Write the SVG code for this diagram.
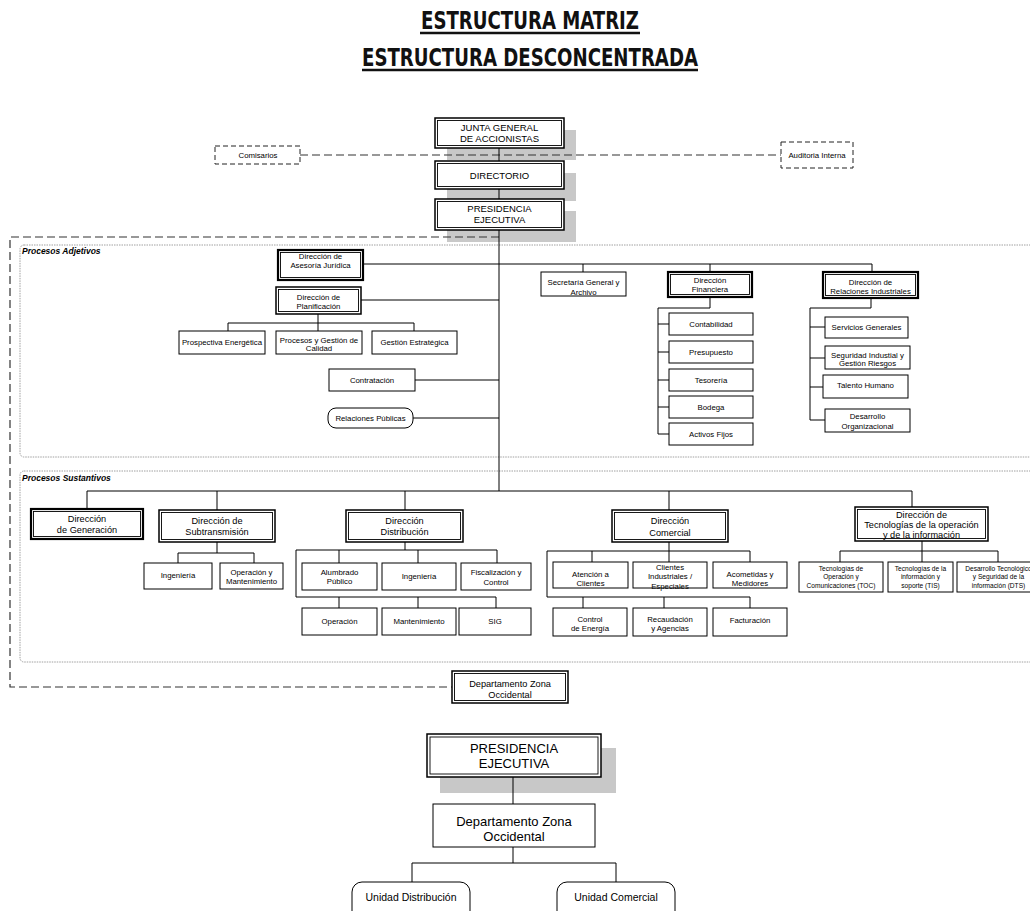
<svg xmlns="http://www.w3.org/2000/svg" width="1030" height="911" viewBox="0 0 1030 911">
<defs><style>
.t{font-family:"Liberation Sans",Arial,Helvetica,sans-serif;fill:#000;text-anchor:middle}
.f65{font-size:6.6px}.f75{font-size:7.8px}.f8{font-size:8px}.f9{font-size:9.2px}.f95{font-size:9.5px}.f105{font-size:10.5px}.f13{font-size:13px}
.ttl{font-family:"Liberation Sans Narrow","DejaVu Sans Condensed",sans-serif;font-weight:700;font-size:25px;fill:#111;text-anchor:middle}
.lbl{font-family:"Liberation Sans",Arial,sans-serif;font-weight:700;font-style:italic;font-size:8.5px;fill:#000}
.b{fill:#fff;stroke:#000;stroke-width:1}
.bo{fill:#fff;stroke:#000;stroke-width:1.5}
.bt{fill:#fff;stroke:#000;stroke-width:2.2}
.bi{fill:none;stroke:#000;stroke-width:0.9}
.db{fill:#fff;stroke:#222;stroke-width:1;stroke-dasharray:5 3}
.sh{fill:#c8c8c8}
.ln{fill:none;stroke:#000;stroke-width:1}
.dl{fill:none;stroke:#333;stroke-width:1.2;stroke-dasharray:8 4}
.rg{fill:none;stroke:#a0a0a0;stroke-width:1;stroke-dasharray:1.5 1}
.ul{stroke:#111;stroke-width:2.5}
</style></defs>
<rect width="1030" height="911" fill="#fff"/>

<g id="title">
<text class="ttl" x="530" y="29" textLength="218" lengthAdjust="spacingAndGlyphs">ESTRUCTURA MATRIZ</text>
<line class="ul" x1="420" y1="33" x2="640" y2="33"/>
<text class="ttl" x="530" y="66" textLength="336" lengthAdjust="spacingAndGlyphs">ESTRUCTURA DESCONCENTRADA</text>
<line class="ul" x1="362" y1="70" x2="698" y2="70"/>
</g>

<g id="regions">
<rect class="rg" x="20" y="245" width="1030" height="212" rx="4"/>
<text class="lbl" x="22" y="254">Procesos Adjetivos</text>
<rect class="rg" x="20" y="471" width="1030" height="191" rx="4"/>
<text class="lbl" x="22" y="481">Procesos Sustantivos</text>
</g>

<g id="shadows">
<rect class="sh" x="447" y="130" width="129" height="30"/>
<rect class="sh" x="447" y="173" width="129" height="28"/>
<rect class="sh" x="447" y="211" width="129" height="31"/>
<rect class="sh" x="440" y="748" width="176" height="45"/>
</g>

<g id="connectors">
<path class="dl" d="M300,155 H781"/>
<path class="dl" d="M499,237 H10 V687 H452"/>
<path class="ln" d="M499,148 V161 M499,189 V199 M499,230 V491"/>
<path class="ln" d="M363,264 H872 M583,264 V272 M710,264 V272 M872,264 V272"/>
<path class="ln" d="M361,300 H499 M415,380 H499 M413,418 H499"/>
<path class="ln" d="M318,314 V323 M228,331 V323 H414 V331 M318,323 V331"/>
<path class="ln" d="M710,297 V308 H658 V434 M658,324 H669 M658,352 H669 M658,380 H669 M658,407 H669 M658,434 H669"/>
<path class="ln" d="M871,298 V308 H810 V420 M810,327 H825 M810,358 H825 M810,387 H823 M810,420 H825"/>
<path class="ln" d="M87,509 V491 H912 V507 M217,491 V510 M405,491 V510 M669,491 V510"/>
<path class="ln" d="M217,542 V553 M178,563 V553 H254 V563"/>
<path class="ln" d="M405,542 V550 M296,550 H497 V563 M339,550 V563 M418,550 V563 M296,550 V597 H496 V608 M339,597 V608 M418,597 V608"/>
<path class="ln" d="M669,542 V551 M547,551 H750 V562 M592,551 V562 M669,551 V562 M547,551 V597 H750 V608 M583,597 V608 M664,597 V608"/>
<path class="ln" d="M922,541 V551 M840,551 H998 V562 M840,551 V562 M922,551 V562"/>
<path class="ln" d="M513,777 V804 M513,847 V863 M412,882 V863 H616 V882"/>
</g>

<g id="junta"><rect class="bo" x="435" y="118" width="129" height="30"/><rect class="bi" x="437.5" y="120.5" width="124" height="25"/>
<text class="t f95" x="499.5" y="130.5">JUNTA GENERAL</text><text class="t f95" x="499.5" y="141.5">DE ACCIONISTAS</text></g>
<g id="comisarios"><rect class="db" x="215" y="146" width="85" height="18"/><text class="t f75" x="258" y="158">Comisarios</text></g>
<g id="auditoria"><rect class="db" x="781" y="142" width="72" height="26"/><text class="t f75" x="817" y="158">Auditoria Interna</text></g>
<g id="directorio"><rect class="bo" x="435" y="161" width="129" height="28"/><rect class="bi" x="437.5" y="163.5" width="124" height="23"/>
<text class="t f95" x="499.5" y="178.5">DIRECTORIO</text></g>
<g id="presidencia"><rect class="bo" x="435" y="199" width="129" height="31"/><rect class="bi" x="437.5" y="201.5" width="124" height="26"/>
<text class="t f95" x="499.5" y="211.5">PRESIDENCIA</text><text class="t f95" x="499.5" y="222.5">EJECUTIVA</text></g>

<g id="asesoria"><rect class="bt" x="278" y="250" width="85" height="30"/><rect class="bi" x="280.5" y="252.5" width="80" height="25"/>
<text class="t f75" x="320.5" y="259">Dirección de</text><text class="t f75" x="320.5" y="268">Asesoría Jurídica</text></g>
<g id="planificacion"><rect class="bo" x="276" y="287" width="85" height="27"/><rect class="bi" x="278.5" y="289.5" width="80" height="22"/>
<text class="t f75" x="318.5" y="299.5">Dirección de</text><text class="t f75" x="318.5" y="309">Planificación</text></g>
<g id="prospectiva"><rect class="b" x="179" y="331" width="86" height="23"/><text class="t f75" x="222" y="345">Prospectiva Energética</text></g>
<g id="procesos"><rect class="b" x="276" y="331" width="86" height="23"/><text class="t f75" x="319" y="342.5">Procesos y Gestión de</text><text class="t f75" x="319" y="351">Calidad</text></g>
<g id="gestion"><rect class="b" x="372" y="331" width="85" height="23"/><text class="t f75" x="414.5" y="345">Gestión Estratégica</text></g>
<g id="contratacion"><rect class="b" x="329" y="369" width="86" height="22"/><text class="t f75" x="372" y="382.5">Contratación</text></g>
<g id="relpublicas"><rect class="b" x="328" y="408" width="85" height="20" rx="8"/><text class="t f75" x="370.5" y="420.5">Relaciones Públicas</text></g>

<g id="secretaria"><rect class="b" x="541" y="272" width="85" height="24"/><text class="t f75" x="583.5" y="285">Secretaría General y</text><text class="t f75" x="583.5" y="294.5">Archivo</text></g>
<g id="financiera"><rect class="bt" x="668" y="272" width="84" height="25"/><rect class="bi" x="670.5" y="274.5" width="79" height="20"/>
<text class="t f75" x="710" y="282.5">Dirección</text><text class="t f75" x="710" y="291.5">Financiera</text></g>
<g id="contabilidad"><rect class="b" x="669" y="313" width="84" height="22"/><text class="t f75" x="711" y="326.5">Contabilidad</text></g>
<g id="presupuesto"><rect class="b" x="669" y="341" width="84" height="22"/><text class="t f75" x="711" y="354.5">Presupuesto</text></g>
<g id="tesoreria"><rect class="b" x="669" y="369" width="84" height="22"/><text class="t f75" x="711" y="382.5">Tesorería</text></g>
<g id="bodega"><rect class="b" x="669" y="396" width="84" height="22"/><text class="t f75" x="711" y="409.5">Bodega</text></g>
<g id="activos"><rect class="b" x="669" y="423" width="84" height="22"/><text class="t f75" x="711" y="436.5">Activos Fijos</text></g>

<g id="relindustriales"><rect class="bt" x="823" y="272" width="95" height="26"/><rect class="bi" x="825.5" y="274.5" width="90" height="21"/>
<text class="t f75" x="870.5" y="285">Dirección de</text><text class="t f75" x="870.5" y="294">Relaciones Industriales</text></g>
<g id="servicios"><rect class="b" x="825" y="317" width="83" height="21"/><text class="t f75" x="866.5" y="330">Servicios Generales</text></g>
<g id="seguridad"><rect class="b" x="825" y="346" width="85" height="23"/><text class="t f75" x="867.5" y="357.5">Seguridad Industial y</text><text class="t f75" x="867.5" y="366">Gestión Riesgos</text></g>
<g id="talento"><rect class="b" x="823" y="375" width="85" height="23"/><text class="t f75" x="865.5" y="388">Talento Humano</text></g>
<g id="desarrollo"><rect class="b" x="825" y="409" width="85" height="23"/><text class="t f75" x="867.5" y="419">Desarrollo</text><text class="t f75" x="867.5" y="428.5">Organizacional</text></g>

<g id="generacion"><rect class="bt" x="31" y="509" width="112" height="30"/><rect class="bi" x="33.5" y="511.5" width="107" height="25"/>
<text class="t f9" x="87" y="522">Dirección</text><text class="t f9" x="87" y="533">de Generación</text></g>
<g id="subtransmision"><rect class="bo" x="159" y="510" width="116" height="32"/><rect class="bi" x="161.5" y="512.5" width="111" height="27"/>
<text class="t f9" x="217" y="523.5">Dirección de</text><text class="t f9" x="217" y="535">Subtransmisión</text></g>
<g id="sub_ingenieria"><rect class="b" x="144" y="563" width="68" height="26"/><text class="t f75" x="178" y="578">Ingeniería</text></g>
<g id="sub_operacion"><rect class="b" x="220" y="563" width="63" height="26"/><text class="t f75" x="251.5" y="574.5">Operación y</text><text class="t f75" x="251.5" y="583.5">Mantenimiento</text></g>

<g id="distribucion"><rect class="bo" x="346" y="510" width="117" height="32"/><rect class="bi" x="348.5" y="512.5" width="112" height="27"/>
<text class="t f9" x="404.5" y="523.5">Dirección</text><text class="t f9" x="404.5" y="535">Distribución</text></g>
<g id="alumbrado"><rect class="b" x="302" y="563" width="75" height="27"/><text class="t f75" x="339.5" y="574.5">Alumbrado</text><text class="t f75" x="339.5" y="584">Público</text></g>
<g id="dis_ingenieria"><rect class="b" x="382" y="563" width="74" height="27"/><text class="t f75" x="419" y="578.5">Ingeniería</text></g>
<g id="fiscalizacion"><rect class="b" x="461" y="563" width="70" height="27"/><text class="t f75" x="496" y="575">Fiscalización y</text><text class="t f75" x="496" y="584.5">Control</text></g>
<g id="operacion"><rect class="b" x="302" y="608" width="75" height="27"/><text class="t f75" x="339.5" y="623.5">Operación</text></g>
<g id="mantenimiento"><rect class="b" x="382" y="608" width="74" height="27"/><text class="t f75" x="419" y="623.5">Mantenimiento</text></g>
<g id="sig"><rect class="b" x="459" y="608" width="72" height="27"/><text class="t f75" x="495" y="623.5">SIG</text></g>

<g id="comercial"><rect class="bo" x="612" y="510" width="116" height="32"/><rect class="bi" x="614.5" y="512.5" width="111" height="27"/>
<text class="t f9" x="670" y="524">Dirección</text><text class="t f9" x="670" y="535.5">Comercial</text></g>
<g id="atencion"><rect class="b" x="553" y="562" width="75" height="26"/><text class="t f75" x="590.5" y="577">Atención a</text><text class="t f75" x="590.5" y="586">Clientes</text></g>
<g id="industriales"><rect class="b" x="633" y="562" width="74" height="26"/><text class="t f75" x="670" y="570">Clientes</text><text class="t f75" x="670" y="579">Industriales /</text><text class="t f75" x="670" y="588.5">Especiales</text></g>
<g id="acometidas"><rect class="b" x="713" y="562" width="74" height="26"/><text class="t f75" x="750" y="577">Acometidas y</text><text class="t f75" x="750" y="586">Medidores</text></g>
<g id="control"><rect class="b" x="553" y="608" width="74" height="28"/><text class="t f75" x="590" y="622">Control</text><text class="t f75" x="590" y="631">de Energía</text></g>
<g id="recaudacion"><rect class="b" x="633" y="608" width="74" height="28"/><text class="t f75" x="670" y="622">Recaudación</text><text class="t f75" x="670" y="631">y Agencias</text></g>
<g id="facturacion"><rect class="b" x="713" y="608" width="74" height="28"/><text class="t f75" x="750" y="623">Facturación</text></g>

<g id="tecnologias"><rect class="bo" x="855" y="507" width="133" height="34"/><rect class="bi" x="857.5" y="509.5" width="128" height="29"/>
<text class="t f9" x="921.5" y="517.5">Dirección de</text><text class="t f9" x="921.5" y="527.5">Tecnologías de la operación</text><text class="t f9" x="921.5" y="537.5">y de la información</text></g>
<g id="toc"><rect class="b" x="799" y="562" width="84" height="30"/><text class="t f65" x="841" y="570.5">Tecnologías de</text><text class="t f65" x="841" y="579">Operación y</text><text class="t f65" x="841" y="587.5">Comunicaciones (TOC)</text></g>
<g id="tis"><rect class="b" x="888" y="562" width="65" height="30"/><text class="t f65" x="920.5" y="570.5">Tecnologías de la</text><text class="t f65" x="920.5" y="579">información y</text><text class="t f65" x="920.5" y="587.5">soporte (TIS)</text></g>
<g id="dts"><rect class="b" x="957" y="562" width="83" height="30"/><text class="t f65" x="998.5" y="570.5">Desarrollo Tecnológico</text><text class="t f65" x="998.5" y="579">y Seguridad de la</text><text class="t f65" x="998.5" y="587.5">información (DTS)</text></g>

<g id="zonaoccidental"><rect class="bo" x="452" y="671" width="116" height="32"/><rect class="bi" x="454.5" y="673.5" width="111" height="27"/>
<text class="t f9" x="510" y="687">Departamento Zona</text><text class="t f9" x="510" y="698">Occidental</text></g>

<g id="presidencia2"><rect class="bo" x="427" y="734" width="174" height="43"/><rect class="bi" x="430" y="737" width="168" height="37"/>
<text class="t f13" x="514" y="753">PRESIDENCIA</text><text class="t f13" x="514" y="768">EJECUTIVA</text></g>
<g id="zonaoccidental2"><rect class="b" x="433" y="804" width="162" height="43"/>
<text class="t f13" x="514" y="825.5">Departamento Zona</text><text class="t f13" x="514" y="840.5">Occidental</text></g>
<g id="unidaddistribucion"><rect class="b" x="352" y="882" width="118" height="40" rx="10"/><text class="t f105" x="411" y="901">Unidad Distribución</text></g>
<g id="unidadcomercial"><rect class="b" x="557" y="882" width="118" height="40" rx="10"/><text class="t f105" x="616" y="901">Unidad Comercial</text></g>
</svg>
